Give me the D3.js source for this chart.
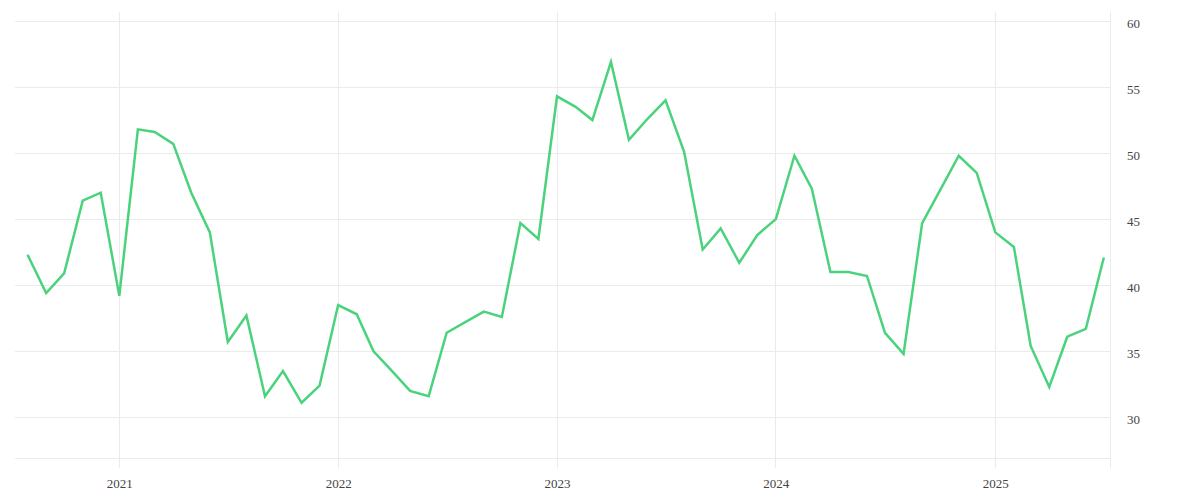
<!DOCTYPE html>
<html>
<head>
<meta charset="utf-8">
<script src="https://cdn.jsdelivr.net/npm/d3@7"></script>
<style>
  html, body { margin: 0; padding: 0; background: #fff; }
  svg { display: block; }
</style>
</head>
<body>
<svg id="chart" width="1200" height="500"></svg>
<script>
const startMonth = "2020-08";
const values = [
  42.3, 39.4, 40.9, 46.4, 47.0,
  39.2, 51.8, 51.6, 50.7, 47.0, 44.0, 35.7, 37.7, 31.6, 33.5, 31.1, 32.4,
  38.5, 37.8, 35.0, 33.5, 32.0, 31.6, 36.4, 37.2, 38.0, 37.6, 44.7, 43.5,
  54.3, 53.5, 52.5, 56.9, 51.0, 52.6, 54.0, 50.1, 42.7, 44.3, 41.7, 43.8,
  45.0, 49.8, 47.3, 41.0, 41.0, 40.7, 36.4, 34.8, 44.7, 47.2, 49.8, 48.5,
  44.0, 42.9, 35.4, 32.3, 36.1, 36.7, 42.1
];
const yTicks = [30, 35, 40, 45, 50, 55, 60];
const xTickLabels = ["2021", "2022", "2023", "2024", "2025"];

(function () {
const parse = d3.timeParse("%Y-%m");
const t0 = parse(startMonth);
const data = values.map((v, i) => ({ date: d3.timeMonth.offset(t0, i), value: v }));

const svg = d3.select("#chart");
const mLeft = 15, mRight = 1110, mTop = 12, mBottom = 458;

const t2021 = parse("2021-01"), t2025 = parse("2025-01");
const a0 = 119.3, a1 = 995.3;
const pxPerMs = (a1 - a0) / (t2025 - t2021);
const x = d3.scaleTime()
  .domain([new Date(+t2021 - (a0 - mLeft) / pxPerMs), new Date(+t2021 + (mRight - a0) / pxPerMs)])
  .range([mLeft, mRight]);

const y = d3.scaleLinear()
  .domain([60 - (mBottom - 21) / 13.21, 60 + (21 - mTop) / 13.21])
  .range([mBottom, mTop]);

const grid = "#ebebeb";

svg.append("g").selectAll("line")
  .data(yTicks)
  .join("line")
  .attr("x1", mLeft).attr("x2", mRight)
  .attr("y1", d => Math.round(y(d)) + 0.5).attr("y2", d => Math.round(y(d)) + 0.5)
  .attr("stroke", grid).attr("stroke-width", 1);

svg.append("line")
  .attr("x1", mLeft).attr("x2", mRight)
  .attr("y1", mBottom + 0.5).attr("y2", mBottom + 0.5)
  .attr("stroke", grid);

const xTicks = xTickLabels.map(s => parse(s + "-01"));
svg.append("g").selectAll("line")
  .data(xTicks)
  .join("line")
  .attr("x1", d => Math.floor(x(d)) + 0.5).attr("x2", d => Math.floor(x(d)) + 0.5)
  .attr("y1", mTop).attr("y2", 468)
  .attr("stroke", grid);

svg.append("line")
  .attr("x1", mRight + 0.5).attr("x2", mRight + 0.5)
  .attr("y1", mTop).attr("y2", 468)
  .attr("stroke", grid);

const yAxis = d3.axisRight(y).tickValues(yTicks).tickSize(0).tickPadding(0);
const gy = svg.append("g").attr("transform", `translate(${mRight + 17},2.5)`).call(yAxis);
gy.select(".domain").remove();
gy.selectAll("text")
  .attr("font-family", "'Liberation Serif', serif")
  .attr("font-size", 13)
  .attr("fill", "#444")
  .attr("dy", "0.32em");

const xAxis = d3.axisBottom(x).tickValues(xTicks).tickFormat(d3.timeFormat("%Y")).tickSize(0).tickPadding(0);
const gx = svg.append("g").attr("transform", `translate(0,479)`).call(xAxis);
gx.select(".domain").remove();
gx.selectAll("text")
  .attr("font-family", "'Liberation Serif', serif")
  .attr("font-size", 13)
  .attr("fill", "#444");

const line = d3.line().x(d => x(d.date)).y(d => y(d.value));
svg.append("path")
  .datum(data)
  .attr("d", line)
  .attr("fill", "none")
  .attr("stroke", "#4ad27c")
  .attr("stroke-width", 2.5)
  .attr("stroke-linejoin", "miter");
})();
</script>
</body>
</html>
